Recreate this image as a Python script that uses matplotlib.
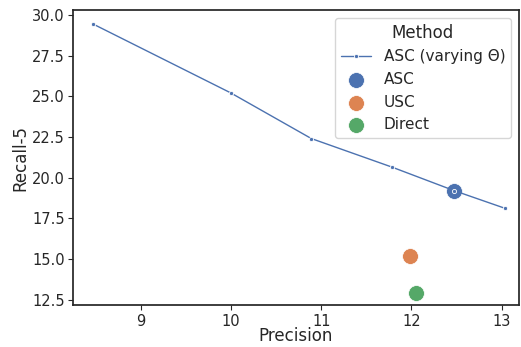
import matplotlib
matplotlib.use("Agg")
import matplotlib.pyplot as plt
import seaborn as sns

# ASC with varying threshold
sweep_precision = [8.47, 10.0, 10.89, 11.78, 12.47, 13.04]
sweep_recall = [29.45, 25.2, 22.4, 20.65, 19.2, 18.1]

methods = ["ASC", "USC", "Direct"]
method_precision = [12.47, 11.98, 12.05]
method_recall = [19.2, 15.2, 12.9]

sns.set_theme(style="ticks")
plt.rcParams['font.family'] = ['DejaVu Sans']
palette = sns.color_palette("deep")

fig = plt.figure(figsize=(5.21, 3.47), dpi=100)
ax = fig.add_axes([0.14, 0.12, 0.856, 0.851])

for i, m in enumerate(methods):
    ax.scatter(method_precision[i], method_recall[i], s=130, color=palette[i],
               edgecolor="white", linewidth=0.5, label=m, zorder=2)

ax.plot(sweep_precision, sweep_recall, color=palette[0], linewidth=1,
        marker="o", markersize=3, markeredgecolor="white", markeredgewidth=0.6,
        label="ASC (varying \u0398)", zorder=3)

ax.set_xlim(8.25, 13.19)
ax.set_ylim(12.14, 30.3)
ax.set_xticks([9, 10, 11, 12, 13])
ax.set_yticks([12.5, 15.0, 17.5, 20.0, 22.5, 25.0, 27.5, 30.0])
ax.set_yticklabels(["12.5", "15.0", "17.5", "20.0", "22.5", "25.0", "27.5", "30.0"])
ax.tick_params(labelsize=10.5, length=3.5, width=0.8, pad=2.5)
ax.set_xlabel("Precision", fontsize=12, labelpad=-1)
ax.set_ylabel("Recall-5", fontsize=12, labelpad=2)

handles, labels = ax.get_legend_handles_labels()
order = [3, 0, 1, 2]
ax.legend([handles[k] for k in order], [labels[k] for k in order],
          title="Method", fontsize=11, title_fontsize=12, loc="upper right")

fig.savefig("out.png", dpi=100)
